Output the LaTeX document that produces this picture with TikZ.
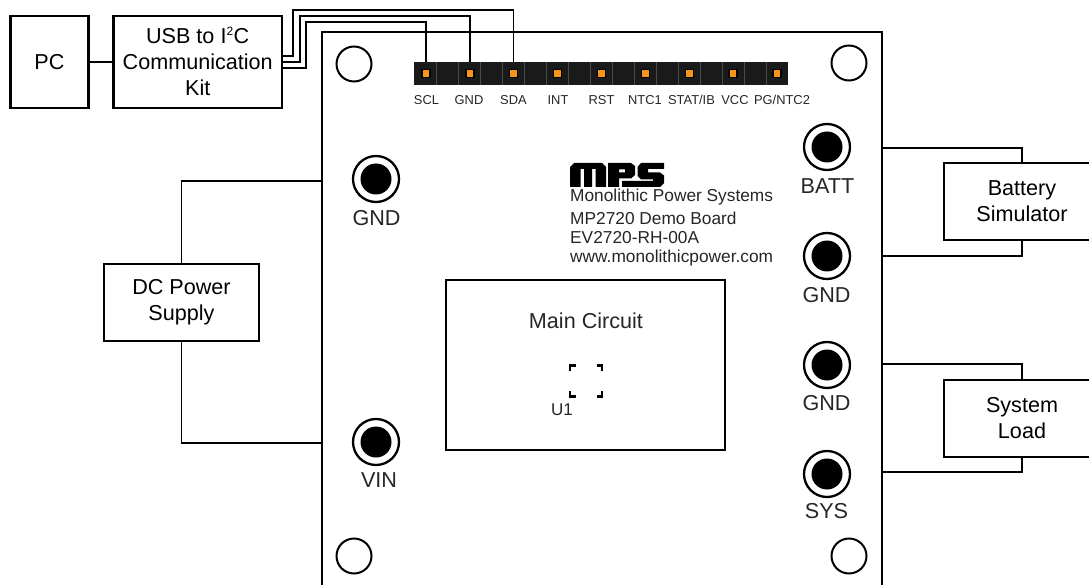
\documentclass[tikz,border=0pt]{standalone}
\usepackage{fontspec}
\setmainfont{Liberation Sans}
\usetikzlibrary{positioning, calc}
\definecolor{pinorange}{HTML}{F7941D}
\definecolor{headerblack}{HTML}{1A1A1A}
\tikzset{
  blockbox/.style={draw, line width=2.5pt, fill=white, align=center, inner sep=0pt, font=\fontsize{21.6}{26}\selectfont},
  wire/.style={line width=1.2pt},
  jackouter/.style={circle, draw, line width=2.3pt, fill=white, minimum size=46pt, inner sep=0pt},
  jackinner/.style={circle, fill=black, minimum size=31pt, inner sep=0pt},
  mounthole/.style={circle, draw, line width=2pt, fill=white, minimum size=35pt, inner sep=0pt},
  pinlabel/.style={font=\fontsize{12.9}{15}\selectfont, inner sep=0pt, text=black!85},
  jacklabel/.style={font=\fontsize{21.6}{26}\selectfont, inner sep=0pt, text=black!85},
  boardtext/.style={font=\fontsize{17.3}{21}\selectfont, inner sep=0pt, anchor=west, text=black!85},
}
\begin{document}
\begin{tikzpicture}[x=1pt, y=-1pt]
  \useasboundingbox (0,0) rectangle (1089,585);
  \clip (0,0) rectangle (1089,585);
  % Board
  \node[draw, line width=2.5pt, minimum width=560pt, minimum height=600pt, anchor=north west] (board) at (320.75,30.75) {};
  % Blocks
  \node[blockbox, minimum width=78pt, minimum height=92pt] (pc) at (49.5,62) {PC};
  \node[blockbox, minimum width=168.5pt, minimum height=92pt] (usb) at (197.7,62) {USB to I\smash{\textsuperscript{\fontsize{12}{12}\selectfont 2}}C\\Communication\\Kit};
  \node[blockbox, minimum width=155pt, minimum height=77pt] (dcsupply) at (181.5,302.5) {DC Power\\Supply};
  \node[blockbox, minimum width=156pt, minimum height=77pt] (battery) at (1022,201.5) {Battery\\Simulator};
  \node[blockbox, minimum width=156pt, minimum height=77pt] (sysload) at (1022,418.5) {System\\Load};
  \node[draw, line width=2.5pt, minimum width=279pt, minimum height=170pt] (maincircuit) at (585.5,365) {};
  \node[font=\fontsize{21.6}{26}\selectfont, inner sep=0pt, text=black!85] (maintitle) at (586,321) {Main Circuit};
  % Header and its pins
  \node[fill=headerblack, minimum width=374pt, minimum height=23pt, inner sep=0pt, anchor=north west] (header) at (414,62) {};
  \foreach \i in {1,...,16}
    \draw[black!70, line width=0.8pt] ($(header.north west)+(\i*22,0.5)$) -- ($(header.south west)+(\i*22,-0.5)$);
  \foreach \i/\x/\lx/\lab in {scl/426/426.5/SCL, gnd/470/469/GND, sda/513.7/513.5/SDA, int/557.6/558/INT, rst/601.5/601.5/RST, ntca/645.5/645/NTC1, stat/689.5/691.5/{STAT/IB}, vcc/733/735/VCC, pg/777/782/{PG/NTC2}} {
    \node[fill=pinorange, draw=black, line width=1.5pt, minimum size=8pt, inner sep=0pt] (pin\i) at (\x,73.5) {};
    \node[pinlabel] (lab\i) at (\lx,100) {\lab};
  }
  % Wires to the header
  \draw[wire] (pc.east) -- (usb.west);
  \draw[wire] ($(usb.east)+(0,-6)$) -| (293,10) -| (pinsda.north |- header.north);
  \draw[wire] (usb.east) -| (300,16) -| (pingnd.north |- header.north);
  \draw[wire] ($(usb.east)+(0,6)$) -| (306,22) -| (pinscl.north |- header.north);
  % Mounting holes
  \node[mounthole] (holea) at (354,64) {};
  \node[mounthole] (holeb) at (849,63) {};
  \node[mounthole] (holec) at (354,556) {};
  \node[mounthole] (holed) at (849,556) {};
  % Jacks
  \foreach \i/\x/\y/\lx/\ly/\lab in {batt/827/147/827.5/186/BATT, gnda/827/256/826.5/295/GND, gndb/827/365/826.5/403/GND, sys/827/474/826.5/511/SYS, gndc/376/179/376.5/218/GND, vin/376/442/379/480/VIN} {
    \node[jackouter] (jack\i) at (\x,\y) {};
    \node[jackinner] at (jack\i) {};
    \node[jacklabel] (lab\i) at (\lx,\ly) {\lab};
  }
  % Supply wires
  \coordinate (edgea) at (322,181);
  \coordinate (edgeb) at (322,443);
  \coordinate (edgec) at (882,148);
  \coordinate (edged) at (882,256);
  \coordinate (edgee) at (882,364);
  \coordinate (edgef) at (882,472);
  \draw[wire] (dcsupply.north) |- (edgea);
  \draw[wire] (dcsupply.south) |- (edgeb);
  \draw[wire] (battery.north) |- (edgec);
  \draw[wire] (battery.south) |- (edged);
  \draw[wire] (sysload.north) |- (edgee);
  \draw[wire] (sysload.south) |- (edgef);
  % Logo
  \fill (570,187) -- (570,167) -- (574,163) -- (602,163) -- (606,167) -- (606,187) -- (595.5,187) -- (595.5,169) -- (592,169) -- (592,187) -- (584,187) -- (584,169) -- (580.5,169) -- (580.5,187) -- cycle;
  \fill[even odd rule] (608,187) -- (608,163) -- (631,163) -- (635,166) -- (635,175) -- (631,178.5) -- (619,178.5) -- (619,187) -- cycle (619,169.5) rectangle (625,172.5);
  \fill (622,187) -- (622,181) -- (653,181) -- (653,179.5) -- (641,179.5) -- (637.5,176) -- (637.5,167) -- (641,163) -- (664,163) -- (664,169) -- (648,169) -- (648,172.5) -- (660,172.5) -- (664,175.5) -- (664,183) -- (660,187) -- cycle;
  % Board text
  \node[boardtext] (logotexta) at (570,197) {Monolithic Power Systems};
  \node[boardtext] (logotextb) at (570,218) {MP2720 Demo Board};
  \node[boardtext] (logotextc) at (570,238) {EV2720-RH-00A};
  \node[boardtext] (logotextd) at (570,258.5) {www.monolithicpower.com};
  % U1 outline
  \draw[line width=2.5pt] (570,371) -- (570,365.5) -- (575.5,365.5);
  \draw[line width=2.5pt] (596.5,365.5) -- (602,365.5) -- (602,371);
  \draw[line width=2.5pt] (570,391) -- (570,396.5) -- (575.5,396.5);
  \draw[line width=2.5pt] (596.5,396.5) -- (602,396.5) -- (602,391);
  \node[font=\fontsize{17}{20}\selectfont, inner sep=0pt, text=black!85] (uone) at (562,410) {U1};
\end{tikzpicture}
\end{document}
